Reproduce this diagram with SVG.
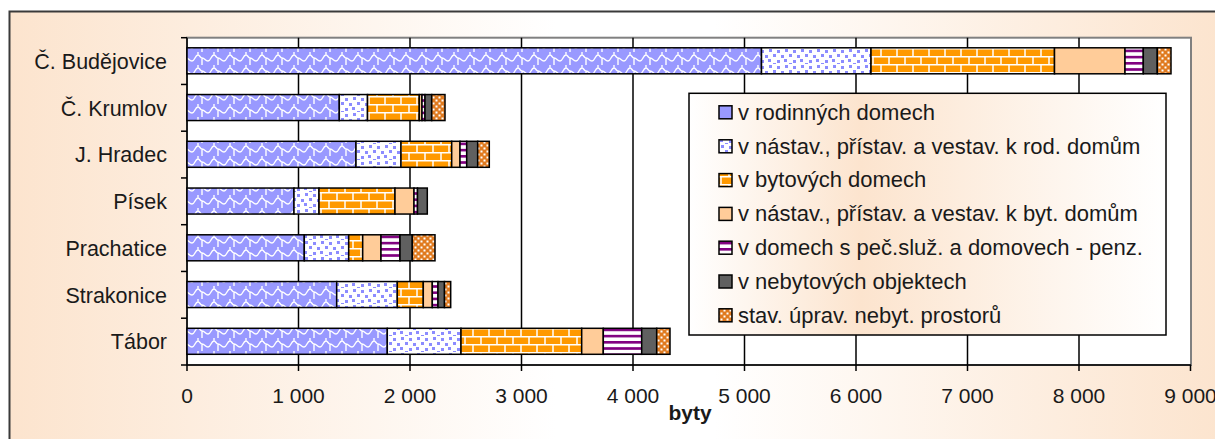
<svg xmlns="http://www.w3.org/2000/svg" width="1215" height="439" viewBox="0 0 1215 439">
<style>
text{font-family:"Liberation Sans",Arial,sans-serif;font-size:21px;fill:#1a1a1a}
.cat{text-anchor:end;font-size:21.5px}
.tick{text-anchor:middle}
.leg{font-size:22px}
.seg{stroke:#000;stroke-width:1.5}
.grid{stroke:#000;stroke-width:1.5}
.sw{stroke:#000;stroke-width:1.5}
</style>
<defs>
<linearGradient id="bg" x1="0" y1="0" x2="1" y2="0">
<stop offset="0" stop-color="#FCE4CE"/>
<stop offset="0.45" stop-color="#FFFFFF"/>
<stop offset="0.58" stop-color="#FFFFFF"/>
<stop offset="1" stop-color="#FCE4CE"/>
</linearGradient>
<linearGradient id="lg" x1="0" y1="0" x2="1" y2="0">
<stop offset="0" stop-color="#FFFFFF"/>
<stop offset="0.36" stop-color="#FCE4CE"/>
<stop offset="1" stop-color="#FFFFFF"/>
</linearGradient>
<pattern id="pWave" width="16" height="13" patternUnits="userSpaceOnUse">
<rect width="16" height="13" fill="#9999FF"/>
<path d="M0 9 C3 9 3 3 6 3 C8 3 8 6 10 6 C13 6 13 9 16 9 M6 3 V0 M10 6 V13" fill="none" stroke="#FFFFFF" stroke-width="1.4"/>
</pattern>
<pattern id="pConf" width="16" height="16" patternUnits="userSpaceOnUse">
<rect width="16" height="16" fill="#FFFFFF"/>
<g fill="#8C8CFF">
<rect x="1" y="1" width="3" height="3"/>
<rect x="9" y="2" width="3" height="3"/>
<rect x="5" y="6" width="3" height="3"/>
<rect x="13" y="7" width="3" height="3"/>
<rect x="0" y="11" width="3" height="3"/>
<rect x="9" y="12" width="3" height="3"/>
<rect x="5" y="15" width="3" height="1"/>
</g>
</pattern>
<pattern id="pBrick" width="16" height="16" patternUnits="userSpaceOnUse">
<rect width="16" height="16" fill="#FF9900"/>
<path d="M0 0.75 H16 M0 8.75 H16 M1 0 V8.75 M9 8.75 V16" fill="none" stroke="#FFFFFF" stroke-width="1.5"/>
</pattern>
<pattern id="pStripe" width="16" height="6.2" patternUnits="userSpaceOnUse">
<rect width="16" height="6.2" fill="#FFFFFF"/>
<rect width="16" height="2.6" fill="#800080"/>
</pattern>
<pattern id="pLattice" width="6" height="6" patternUnits="userSpaceOnUse">
<rect width="6" height="6" fill="#E07A1F"/>
<rect x="0.5" y="0.5" width="2" height="2" fill="#FFFFFF"/>
<rect x="3.5" y="3.5" width="2" height="2" fill="#FFFFFF"/>
</pattern>
</defs>

<g id="background">
<rect x="9.5" y="11.5" width="1215" height="440" fill="url(#bg)" stroke="#3a3a3a" stroke-width="2"/>
</g>

<g id="plot-area">
<rect x="187" y="37.7" width="1004" height="327.3" fill="#FFFFFF" stroke="#808080" stroke-width="2"/>
<g class="grid">
<line x1="298.5" y1="37.7" x2="298.5" y2="365"/>
<line x1="410" y1="37.7" x2="410" y2="365"/>
<line x1="521.5" y1="37.7" x2="521.5" y2="365"/>
<line x1="633" y1="37.7" x2="633" y2="365"/>
<line x1="744.5" y1="37.7" x2="744.5" y2="365"/>
<line x1="856" y1="37.7" x2="856" y2="365"/>
<line x1="967.5" y1="37.7" x2="967.5" y2="365"/>
<line x1="1079" y1="37.7" x2="1079" y2="365"/>
</g>
</g>

<g id="axes" stroke="#000" stroke-width="1.5">
<line x1="187" y1="37.7" x2="187" y2="365"/>
<line x1="187" y1="365" x2="1191" y2="365"/>
<line x1="181" y1="37.7" x2="187" y2="37.7"/>
<line x1="181" y1="84.45" x2="187" y2="84.45"/>
<line x1="181" y1="131.2" x2="187" y2="131.2"/>
<line x1="181" y1="177.95" x2="187" y2="177.95"/>
<line x1="181" y1="224.7" x2="187" y2="224.7"/>
<line x1="181" y1="271.45" x2="187" y2="271.45"/>
<line x1="181" y1="318.2" x2="187" y2="318.2"/>
<line x1="181" y1="365" x2="187" y2="365"/>
<line x1="187" y1="365" x2="187" y2="371"/>
<line x1="298.5" y1="365" x2="298.5" y2="371"/>
<line x1="410" y1="365" x2="410" y2="371"/>
<line x1="521.5" y1="365" x2="521.5" y2="371"/>
<line x1="633" y1="365" x2="633" y2="371"/>
<line x1="744.5" y1="365" x2="744.5" y2="371"/>
<line x1="856" y1="365" x2="856" y2="371"/>
<line x1="967.5" y1="365" x2="967.5" y2="371"/>
<line x1="1079" y1="365" x2="1079" y2="371"/>
<line x1="1190.5" y1="365" x2="1190.5" y2="371"/>
</g>

<g id="x-labels">
<text class="tick" x="187" y="403">0</text>
<text class="tick" x="298.5" y="403">1 000</text>
<text class="tick" x="410" y="403">2 000</text>
<text class="tick" x="521.5" y="403">3 000</text>
<text class="tick" x="633" y="403">4 000</text>
<text class="tick" x="744.5" y="403">5 000</text>
<text class="tick" x="856" y="403">6 000</text>
<text class="tick" x="967.5" y="403">7 000</text>
<text class="tick" x="1079" y="403">8 000</text>
<text class="tick" x="1190.5" y="403">9 000</text>
<text class="tick" x="690" y="420" font-weight="bold">byty</text>
</g>

<g id="bar-cb">
<text class="cat" x="167" y="68.8">Č. Budějovice</text>
<rect class="seg" x="187" y="47.8" width="574.5" height="26" fill="url(#pWave)"/>
<rect class="seg" x="761.5" y="47.8" width="109.5" height="26" fill="url(#pConf)"/>
<rect class="seg" x="871" y="47.8" width="183.5" height="26" fill="url(#pBrick)"/>
<rect class="seg" x="1054.5" y="47.8" width="70.5" height="26" fill="#FFCC99"/>
<rect class="seg" x="1125" y="47.8" width="18.3" height="26" fill="url(#pStripe)"/>
<rect class="seg" x="1143.3" y="47.8" width="14" height="26" fill="#606060"/>
<rect class="seg" x="1157.3" y="47.8" width="13.7" height="26" fill="url(#pLattice)"/>
</g>

<g id="bar-ck">
<text class="cat" x="167" y="115.55">Č. Krumlov</text>
<rect class="seg" x="187" y="94.55" width="152.3" height="26" fill="url(#pWave)"/>
<rect class="seg" x="339.3" y="94.55" width="28.2" height="26" fill="url(#pConf)"/>
<rect class="seg" x="367.5" y="94.55" width="51.8" height="26" fill="url(#pBrick)"/>
<rect class="seg" x="419.3" y="94.55" width="2.7" height="26" fill="#FFCC99"/>
<rect class="seg" x="422" y="94.55" width="3" height="26" fill="url(#pStripe)"/>
<rect class="seg" x="425" y="94.55" width="6.7" height="26" fill="#606060"/>
<rect class="seg" x="431.7" y="94.55" width="13.3" height="26" fill="url(#pLattice)"/>
</g>

<g id="bar-jh">
<text class="cat" x="167" y="162.3">J. Hradec</text>
<rect class="seg" x="187" y="141.3" width="169" height="26" fill="url(#pWave)"/>
<rect class="seg" x="356" y="141.3" width="45" height="26" fill="url(#pConf)"/>
<rect class="seg" x="401" y="141.3" width="50.7" height="26" fill="url(#pBrick)"/>
<rect class="seg" x="451.7" y="141.3" width="8.3" height="26" fill="#FFCC99"/>
<rect class="seg" x="460" y="141.3" width="6.7" height="26" fill="url(#pStripe)"/>
<rect class="seg" x="466.7" y="141.3" width="11" height="26" fill="#606060"/>
<rect class="seg" x="477.7" y="141.3" width="11.6" height="26" fill="url(#pLattice)"/>
</g>

<g id="bar-pi">
<text class="cat" x="167" y="209.05">Písek</text>
<rect class="seg" x="187" y="188.05" width="107" height="26" fill="url(#pWave)"/>
<rect class="seg" x="294" y="188.05" width="25" height="26" fill="url(#pConf)"/>
<rect class="seg" x="319" y="188.05" width="76" height="26" fill="url(#pBrick)"/>
<rect class="seg" x="395" y="188.05" width="19" height="26" fill="#FFCC99"/>
<rect class="seg" x="414" y="188.05" width="3.5" height="26" fill="url(#pStripe)"/>
<rect class="seg" x="417.5" y="188.05" width="9.8" height="26" fill="#606060"/>
</g>

<g id="bar-pr">
<text class="cat" x="167" y="255.8">Prachatice</text>
<rect class="seg" x="187" y="234.8" width="117.3" height="26" fill="url(#pWave)"/>
<rect class="seg" x="304.3" y="234.8" width="44.4" height="26" fill="url(#pConf)"/>
<rect class="seg" x="348.7" y="234.8" width="14" height="26" fill="url(#pBrick)"/>
<rect class="seg" x="362.7" y="234.8" width="18.3" height="26" fill="#FFCC99"/>
<rect class="seg" x="381" y="234.8" width="19" height="26" fill="url(#pStripe)"/>
<rect class="seg" x="400" y="234.8" width="12.3" height="26" fill="#606060"/>
<rect class="seg" x="412.3" y="234.8" width="22.7" height="26" fill="url(#pLattice)"/>
</g>

<g id="bar-st">
<text class="cat" x="167" y="302.55">Strakonice</text>
<rect class="seg" x="187" y="281.55" width="149.7" height="26" fill="url(#pWave)"/>
<rect class="seg" x="336.7" y="281.55" width="60.6" height="26" fill="url(#pConf)"/>
<rect class="seg" x="397.3" y="281.55" width="26" height="26" fill="url(#pBrick)"/>
<rect class="seg" x="423.3" y="281.55" width="9" height="26" fill="#FFCC99"/>
<rect class="seg" x="432.3" y="281.55" width="5.7" height="26" fill="url(#pStripe)"/>
<rect class="seg" x="438" y="281.55" width="6.5" height="26" fill="#606060"/>
<rect class="seg" x="444.5" y="281.55" width="6.2" height="26" fill="url(#pLattice)"/>
</g>

<g id="bar-ta">
<text class="cat" x="167" y="349.3">Tábor</text>
<rect class="seg" x="187" y="328.3" width="200.3" height="26" fill="url(#pWave)"/>
<rect class="seg" x="387.3" y="328.3" width="73.7" height="26" fill="url(#pConf)"/>
<rect class="seg" x="461" y="328.3" width="120.7" height="26" fill="url(#pBrick)"/>
<rect class="seg" x="581.7" y="328.3" width="21.6" height="26" fill="#FFCC99"/>
<rect class="seg" x="603.3" y="328.3" width="38.4" height="26" fill="url(#pStripe)"/>
<rect class="seg" x="641.7" y="328.3" width="15" height="26" fill="#606060"/>
<rect class="seg" x="656.7" y="328.3" width="13.3" height="26" fill="url(#pLattice)"/>
</g>

<g id="legend">
<rect x="689" y="93.3" width="477" height="241.7" fill="url(#lg)" stroke="#000" stroke-width="1.5"/>
<rect class="sw" x="719" y="105.8" width="13" height="13" fill="#9999FF"/>
<text class="leg" x="738" y="119.6">v rodinných domech</text>
<rect class="sw" x="719" y="139.8" width="13" height="13" fill="url(#pConf)"/>
<text class="leg" x="738" y="153.6">v nástav., přístav. a vestav. k rod. domům</text>
<rect class="sw" x="719" y="173.6" width="13" height="13" fill="url(#pBrick)"/>
<text class="leg" x="738" y="187.4">v bytových domech</text>
<rect class="sw" x="719" y="207.4" width="13" height="13" fill="#FFCC99"/>
<text class="leg" x="738" y="221.2">v nástav., přístav. a vestav. k byt. domům</text>
<rect class="sw" x="719" y="241.2" width="13" height="13" fill="url(#pStripe)"/>
<text class="leg" x="738" y="255">v domech s peč.služ. a domovech - penz.</text>
<rect class="sw" x="719" y="275" width="13" height="13" fill="#606060"/>
<text class="leg" x="738" y="288.8">v nebytových objektech</text>
<rect class="sw" x="719" y="308.8" width="13" height="13" fill="url(#pLattice)"/>
<text class="leg" x="738" y="322.6">stav. úprav. nebyt. prostorů</text>
</g>
</svg>
